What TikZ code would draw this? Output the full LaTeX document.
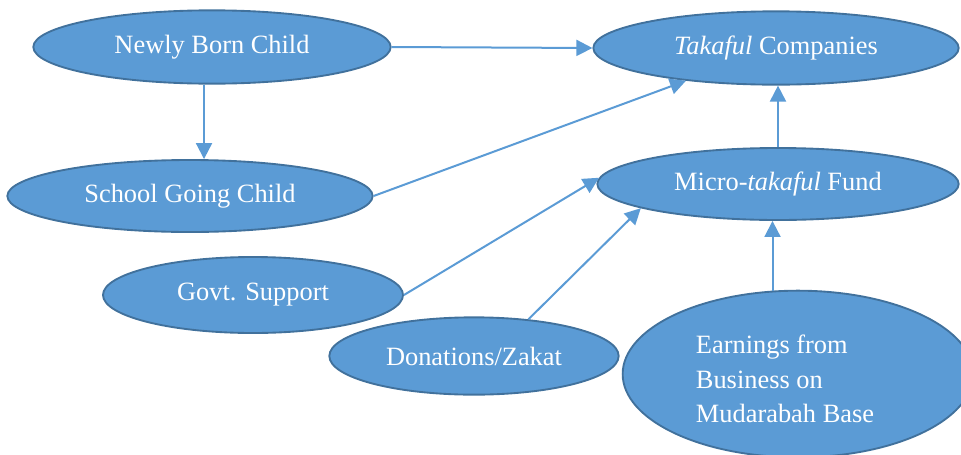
\documentclass[tikz,border=0pt]{standalone}
\usepackage{fontspec}
\setmainfont{Liberation Serif}
\usetikzlibrary{arrows.meta,shapes.geometric}
\definecolor{sky}{RGB}{91,155,213}
\definecolor{steel}{RGB}{65,113,156}
\tikzset{
  >={Triangle[length=12pt,width=12pt]},
  blob/.style={ellipse,draw=steel,fill=sky,line width=1.4pt,inner sep=0pt,
    text=white,font=\fontsize{19.8}{26}\selectfont,align=center},
  flow/.style={->,line width=1.5pt,draw=sky},
  note/.style={text=white,font=\fontsize{19.8}{26}\selectfont,align=left},
}

\begin{document}
\begin{tikzpicture}[x=0.75pt,y=-0.75pt]
  \useasboundingbox (0,0) rectangle (961,454);
  % left column
  \node[blob,minimum width=268pt,minimum height=55pt] (nb) at (212,47) {Newly Born Child};
  \node[blob,minimum width=274pt,minimum height=54pt] (sg) at (190,196) {School Going Child};
  \node[blob,minimum width=225pt,minimum height=57pt] (gs) at (253,295) {Govt. Support};
  \node[blob,minimum width=217pt,minimum height=58pt] (dz) at (474,356) {Donations/Zakat};
  % right column
  \node[blob,minimum width=274pt,minimum height=55pt] (tk) at (776,48) {\emph{Takaful} Companies};
  \node[blob,minimum width=271pt,minimum height=54pt] (mf) at (778,184) {Micro-\emph{takaful} Fund};
  \node[blob,minimum width=263pt,minimum height=125pt] (ea) at (798,374) {};
  \node[note] (eatxt) at (785,379) {Earnings from\\Business on\\Mudarabah Base};

  \draw[flow] (nb.east) -- (tk.west);
  \draw[flow] (nb.-102) -- (nb.-102 |- sg.north);
  \draw[flow] (sg.east) -- (tk.200);
  \draw[flow] (mf.north) -- (mf.north |- tk.south);
  \draw[flow] (gs.east) -- (mf.178);
  \draw[flow] (dz.34) -- (mf.190);
  \draw[flow] (ea.107) -- (ea.107 |- mf.south);
\end{tikzpicture}
\end{document}
